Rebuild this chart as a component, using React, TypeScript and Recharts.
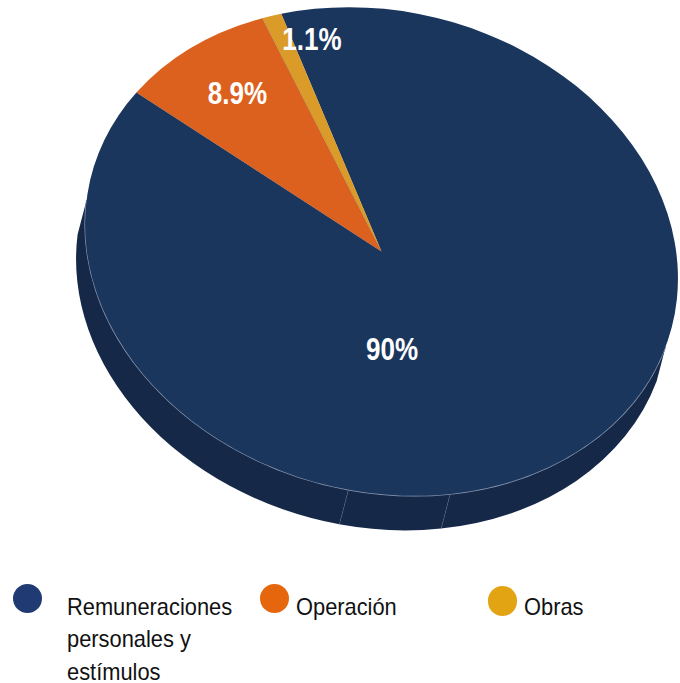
import { PieChart, Pie, Cell, Legend } from "recharts";

const categories = ["Remuneraciones personales y estímulos", "Operación", "Obras"];
const shares = [90, 8.9, 1.1];
const shareLabels = ["90%", "8.9%", "1.1%"];
// visible front wall of the pie, in three pieces (relative sizes)
const wallShares = [60.1, 19.8, 89.4];

const sliceColors = ["#1b365d", "#dc611e", "#da9b28"];
const legendColors = ["#203a73", "#e5660d", "#e3a414"];
const wallColor = "#162848";

// the pie is an ellipse, tilted clockwise on the page
const CX = 381.5;
const CY = 251.5;
const RX = 300;
const RY = 240;
const TILT = 14.8;
const DEPTH_X = -9;
const DEPTH_Y = 34.5;

const START = 121.7;
const WALL_START = -4.6;
const WALL_END = -173.9;

const labelOffsets = [
  { dx: 10.5, dy: 97.5 },
  { dx: -144, dy: -158.5 },
  { dx: -69.5, dy: -212.5 },
];

const legendSpots = [
  { dot: [27.7, 598.3], text: 67, lines: ["Remuneraciones", "personales y", "estímulos"] },
  { dot: [274.3, 598.3], text: 296, lines: ["Operación"] },
  { dot: [502.3, 601], text: 524, lines: ["Obras"] },
];

function rimPoint(cx: number, cy: number, angle: number) {
  const a = (angle * Math.PI) / 180;
  const t = (TILT * Math.PI) / 180;
  const lx = RX * Math.cos(a);
  const ly = -RY * Math.sin(a);
  return {
    x: cx + lx * Math.cos(t) - ly * Math.sin(t),
    y: cy + lx * Math.sin(t) + ly * Math.cos(t),
  };
}

function TopSlice(props: any) {
  const { cx, cy, startAngle, endAngle, fill } = props;
  const p1 = rimPoint(cx, cy, startAngle);
  const p2 = rimPoint(cx, cy, endAngle);
  const large = Math.abs(startAngle - endAngle) > 180 ? 1 : 0;
  const d = `M${cx},${cy} L${p1.x},${p1.y} A${RX},${RY} ${TILT} ${large} 1 ${p2.x},${p2.y} Z`;
  return (
    <g>
      <path d={d} fill={fill} stroke="none" />
      <path d={`M${cx},${cy} L${p1.x},${p1.y}`} stroke="#1b2a40" strokeOpacity={0.3} strokeWidth={0.5} fill="none" />
    </g>
  );
}

function WallSlice(props: any) {
  const { cx, cy, startAngle, endAngle, fill, index } = props;
  const p1 = rimPoint(cx, cy, startAngle);
  const p2 = rimPoint(cx, cy, endAngle);
  const q1 = rimPoint(cx + DEPTH_X, cy + DEPTH_Y, startAngle);
  const q2 = rimPoint(cx + DEPTH_X, cy + DEPTH_Y, endAngle);
  const arc = `M${p1.x},${p1.y} A${RX},${RY} ${TILT} 0 1 ${p2.x},${p2.y}`;
  const d = `${arc} L${q2.x},${q2.y} A${RX},${RY} ${TILT} 0 0 ${q1.x},${q1.y} Z`;
  return (
    <g>
      <path d={d} fill={fill} stroke="none" />
      <path d={arc} stroke="#8a98b0" strokeWidth={1.3} fill="none" />
      {index < wallShares.length - 1 && (
        <path d={`M${p2.x},${p2.y} L${q2.x},${q2.y}`} stroke="#7a8aa6" strokeWidth={0.6} fill="none" />
      )}
    </g>
  );
}

function SliceLabel(props: any) {
  const { cx, cy, index } = props;
  const x = cx + labelOffsets[index].dx;
  const y = cy + labelOffsets[index].dy;
  return (
    <text
      transform={`translate(${x},${y}) scale(0.84,1)`}
      textAnchor="middle"
      dominantBaseline="central"
      fill="#ffffff"
      fontFamily="Liberation Sans"
      fontWeight="bold"
      fontSize={31}
    >
      {shareLabels[index]}
    </text>
  );
}

function ChartLegend() {
  return (
    <div style={{ position: "relative", width: 680, height: 683 }}>
      {legendSpots.map((spot, i) => (
        <div key={categories[i]}>
          <div
            style={{
              position: "absolute",
              left: spot.dot[0] - 14.7,
              top: spot.dot[1] - 14.7,
              width: 29.4,
              height: 29.4,
              borderRadius: "50%",
              background: legendColors[i],
            }}
          />
          {spot.lines.map((line, j) => (
            <div
              key={line}
              style={{
                position: "absolute",
                left: spot.text,
                top: 596 + j * 32.3,
                fontFamily: "Liberation Sans",
                fontSize: 24,
                lineHeight: "22px",
                color: "#111111",
                whiteSpace: "nowrap",
                transform: "scaleX(0.91)",
                transformOrigin: "left",
              }}
            >
              {line}
            </div>
          ))}
        </div>
      ))}
    </div>
  );
}

export default function App() {
  const data = categories.map((name, i) => ({ name, value: shares[i] }));
  const wallData = wallShares.map((value, i) => ({ name: `wall${i}`, value }));

  return (
    <div style={{ position: "absolute", left: 0, top: 0, width: 680, height: 683 }}>
      <PieChart width={680} height={683} margin={{ top: 0, right: 0, bottom: 0, left: 0 }}>
        <Pie
          data={wallData}
          dataKey="value"
          cx={CX}
          cy={CY}
          outerRadius={RX}
          startAngle={WALL_START}
          endAngle={WALL_END}
          paddingAngle={0}
          stroke="none"
          legendType="none"
          shape={WallSlice}
          isAnimationActive={false}
        >
          {wallData.map((d) => (
            <Cell key={d.name} fill={wallColor} />
          ))}
        </Pie>
        <Pie
          data={data}
          dataKey="value"
          nameKey="name"
          cx={CX}
          cy={CY}
          outerRadius={RX}
          startAngle={START}
          endAngle={START - 360}
          paddingAngle={0}
          shape={TopSlice}
          label={SliceLabel}
          labelLine={false}
          isAnimationActive={false}
        >
          {data.map((d, i) => (
            <Cell key={d.name} fill={sliceColors[i]} />
          ))}
        </Pie>
        <Legend content={ChartLegend} wrapperStyle={{ position: "absolute", left: 0, top: 0, width: 680, height: 683 }} />
      </PieChart>
    </div>
  );
}
